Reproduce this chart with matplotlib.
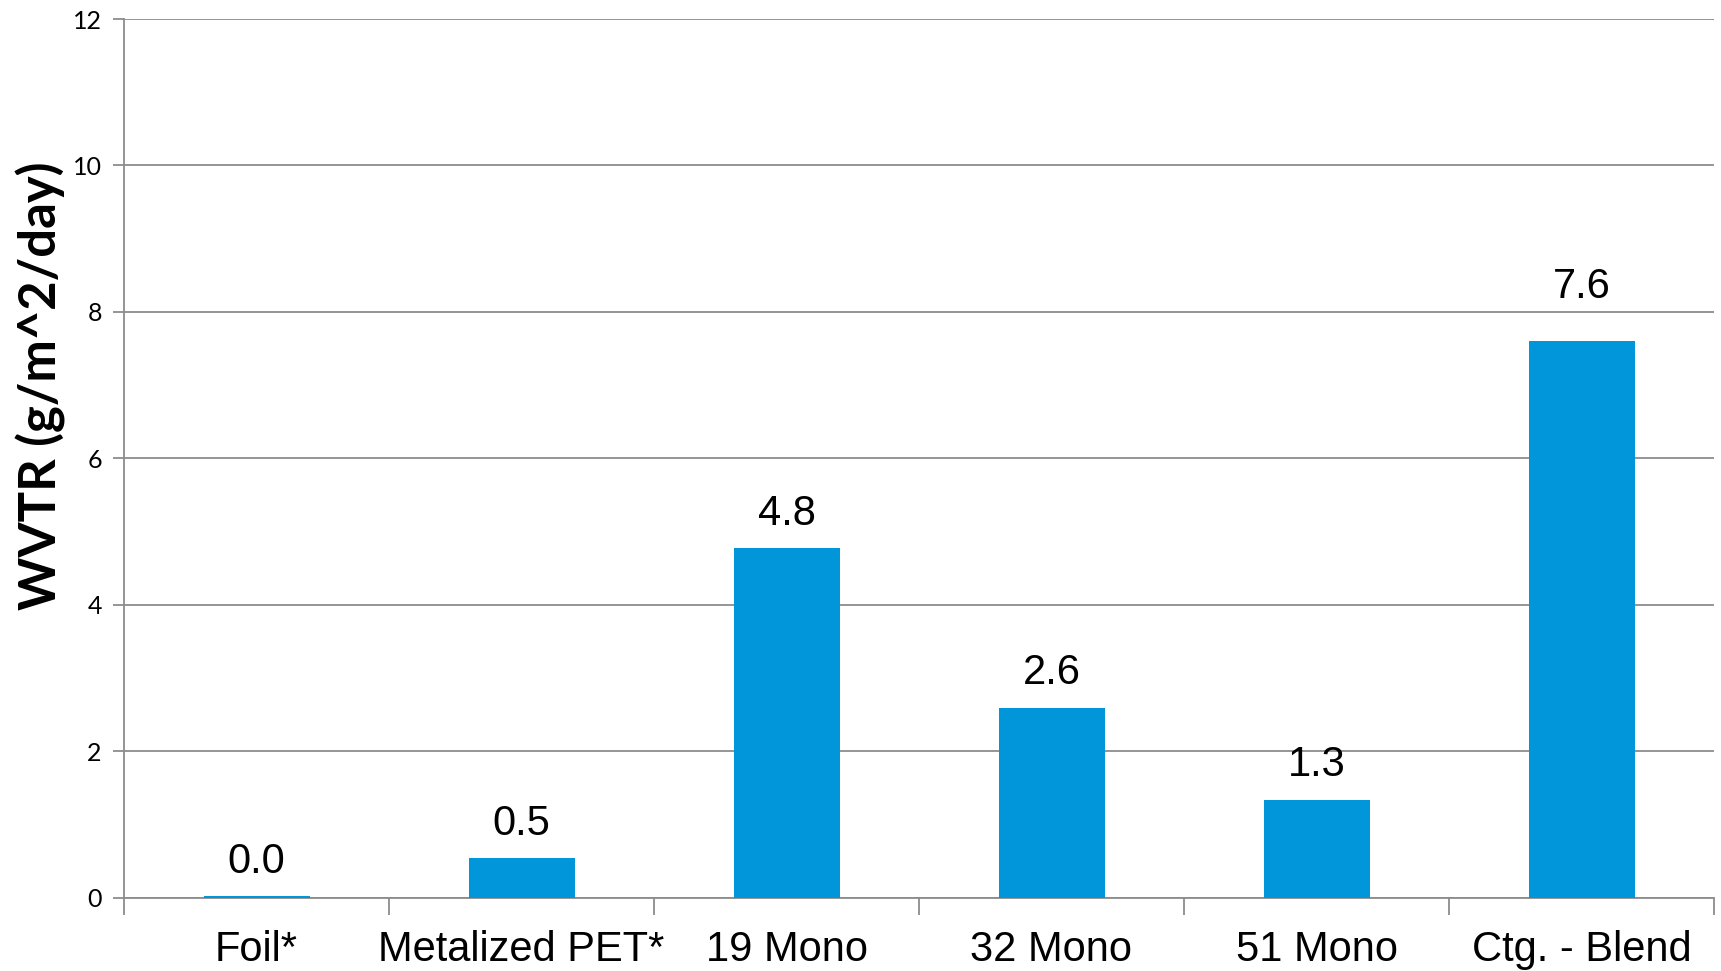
import matplotlib
matplotlib.use("Agg")
import matplotlib.pyplot as plt
import numpy as np

categories = ["Foil*", "Metalized PET*", "19 Mono", "32 Mono", "51 Mono", "Ctg. - Blend"]
values = [0.02, 0.54, 4.77, 2.59, 1.34, 7.6]
yticks = [0, 2, 4, 6, 8, 10, 12]

bar_color = "#0096D9"
grid_color = "#8C8C8C"

fig = plt.figure(figsize=(17.21, 9.71), dpi=100)
ax = fig.add_axes([124/1721, 1-897.7/971, (1714-124)/1721, (897.7-19)/971])

x = np.arange(len(categories))
ax.bar(x, values, width=0.4, color=bar_color, zorder=3)
for i, (xi, v) in enumerate(zip(x, values)):
    off = 0.47 if i == len(values) - 1 else 0.2
    ax.text(xi, v + off, f"{v:.1f}", ha="center", va="bottom",
            fontsize=30, family="Liberation Sans", color="black")

ax.set_xlim(-0.5, len(categories) - 0.5)
ax.set_ylim(0, 12)
ax.set_yticks(yticks)
ax.set_yticklabels([str(t) for t in yticks], family="Lato", fontsize=18)
ax.yaxis.grid(True, color=grid_color, linewidth=1.3, zorder=0)

# category tick marks at boundaries
ax.set_xticks(np.arange(-0.5, len(categories), 1.0))
ax.set_xticklabels([])
ax.set_xticks(x, minor=True)
ax.set_xticklabels(categories, minor=True, family="Liberation Sans", fontsize=30)
ax.tick_params(axis="x", which="major", length=12, width=1.3, color=grid_color)
ax.tick_params(axis="x", which="minor", length=0, pad=23)
ax.tick_params(axis="y", length=8, width=1.3, color=grid_color, pad=8)

for s in ["top", "right"]:
    ax.spines[s].set_visible(False)
for s in ["left", "bottom"]:
    ax.spines[s].set_color(grid_color)
    ax.spines[s].set_linewidth(1.3)

fig.text(41/1721, 1 - 386/971, "WVTR (g/m^2/day)", family="Lato", fontweight="bold",
         fontsize=36.5, rotation=90, ha="center", va="center")

fig.savefig("out.png", dpi=100)
